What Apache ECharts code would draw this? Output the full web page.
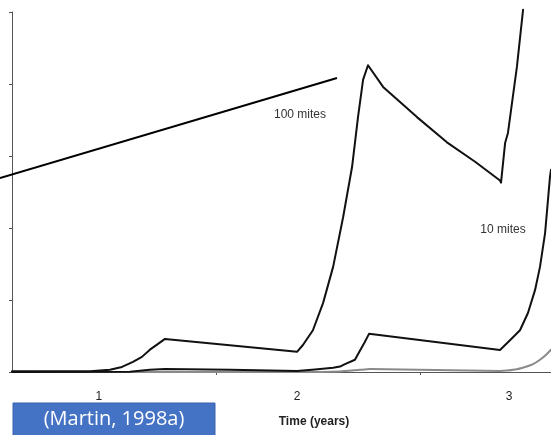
<!DOCTYPE html>
<html>
<head>
<meta charset="utf-8">
<script src="https://cdn.jsdelivr.net/npm/echarts@6/dist/echarts.min.js"></script>
<style>html,body{margin:0;padding:0;background:#fff}#c{width:551px;height:435px}</style>
</head>
<body>
<div id="c"></div>
<script>
// time in years, value in y-axis units (0-5)
const mites100T = [0, 0.235, 0.382, 0.48, 0.539, 0.593, 0.637, 0.676, 0.716, 0.75, 1.397, 1.426, 1.475, 1.525, 1.574, 1.623, 1.667, 1.696, 1.721, 1.745, 1.819, 1.985, 2.132, 2.270, 2.392, 2.397, 2.417, 2.431, 2.475, 2.505];
const mites100V = [0.01, 0.01, 0.012, 0.03, 0.07, 0.14, 0.21, 0.31, 0.39, 0.46, 0.28, 0.375, 0.58, 0.96, 1.46, 2.15, 2.85, 3.54, 4.06, 4.26, 3.96, 3.54, 3.19, 2.92, 2.66, 2.63, 3.18, 3.32, 4.24, 5.03];
const mites10T = [0, 0.578, 0.676, 0.75, 1.069, 1.397, 1.485, 1.574, 1.608, 1.632, 1.681, 1.706, 1.728, 1.75, 2.392, 2.441, 2.490, 2.529, 2.564, 2.588, 2.613, 2.637, 2.642];
const mites10V = [0, 0.005, 0.03, 0.04, 0.03, 0.015, 0.035, 0.06, 0.076, 0.11, 0.17, 0.3, 0.41, 0.53, 0.305, 0.44, 0.58, 0.82, 1.14, 1.46, 1.93, 2.71, 2.81];
const mites1T = [0, 1.397, 1.608, 1.706, 1.755, 2.392, 2.466, 2.515, 2.554, 2.588, 2.618, 2.642];
const mites1V = [0, 0, 0.007, 0.03, 0.04, 0.015, 0.035, 0.07, 0.11, 0.17, 0.24, 0.31];
const xLabelPos = [0.426, 1.397, 2.436];
const xLabelText = ['1', '2', '3'];
const yTicks = [0, 1, 2, 3, 4, 5];
const annotT = [-0.059, 1.593];
const annotV = [2.694, 4.083];

const zip = (a, b) => a.map((v, i) => [v, b[i]]);
const chart = echarts.init(document.getElementById('c'), null, {renderer: 'canvas'});
const lineStyle = (c, w) => ({color: c, width: w, join: 'round', cap: 'round'});
chart.setOption({
  animation: false,
  backgroundColor: '#fff',
  grid: {left: 12, right: 0, top: 12, bottom: 63},
  xAxis: {
    type: 'value', min: 0, max: 2.642,
    axisLine: {show: true, lineStyle: {color: '#555', width: 1}},
    axisTick: {show: true, length: 3, inside: false, customValues: [1, 2], lineStyle: {color: '#555'}},
    axisLabel: {
      customValues: xLabelPos, margin: 19, color: '#222',
      fontFamily: 'Liberation Sans', fontSize: 12,
      formatter: v => { const i = xLabelPos.findIndex(p => Math.abs(p - v) < 1e-6); return i >= 0 ? xLabelText[i] : ''; }
    },
    splitLine: {show: false}
  },
  yAxis: {
    type: 'value', min: yTicks[0], max: yTicks[yTicks.length - 1], interval: 1,
    axisLine: {show: true, lineStyle: {color: '#555', width: 1}},
    axisTick: {show: true, length: 3, lineStyle: {color: '#555'}},
    axisLabel: {show: false},
    splitLine: {show: false}
  },
  series: [
    {type: 'line', name: '1 mite', data: zip(mites1T, mites1V), showSymbol: false, clip: false, smooth: 0.2, lineStyle: lineStyle('#8a8a8a', 2), z: 1},
    {type: 'line', name: '10 mites', data: zip(mites10T, mites10V), showSymbol: false, clip: false, lineStyle: lineStyle('#111', 2), z: 2},
    {type: 'line', name: '100 mites', data: zip(mites100T, mites100V), showSymbol: false, clip: false, lineStyle: lineStyle('#111', 2), z: 3}
  ]
});
const p0 = chart.convertToPixel({gridIndex: 0}, [annotT[0], annotV[0]]);
const p1 = chart.convertToPixel({gridIndex: 0}, [annotT[1], annotV[1]]);
chart.setOption({
  graphic: [
    {type: 'line', shape: {x1: p0[0], y1: p0[1], x2: p1[0], y2: p1[1]}, style: {stroke: '#000', lineWidth: 2}, z: 10},
    {type: 'text', x: 300, y: 115, style: {text: '100 mites', fill: '#333', font: '12px "Liberation Sans", Arial', align: 'center', verticalAlign: 'middle'}},
    {type: 'text', x: 503, y: 230, style: {text: '10 mites', fill: '#333', font: '12px "Liberation Sans", Arial', align: 'center', verticalAlign: 'middle'}},
    {type: 'text', x: 314, y: 422, style: {text: 'Time (years)', fill: '#222', font: 'bold 12px "Liberation Sans", Arial', align: 'center', verticalAlign: 'middle'}},
    {type: 'rect', shape: {x: 13, y: 403, width: 202, height: 34}, style: {fill: '#4472C4', stroke: '#3a63ad', lineWidth: 1}},
    {type: 'text', x: 114, y: 419, style: {text: '(Martin, 1998a)', fill: '#fff', font: '20px "Open Sans", "Noto Sans", sans-serif', align: 'center', verticalAlign: 'middle'}}
  ]
});
</script>
</body>
</html>
